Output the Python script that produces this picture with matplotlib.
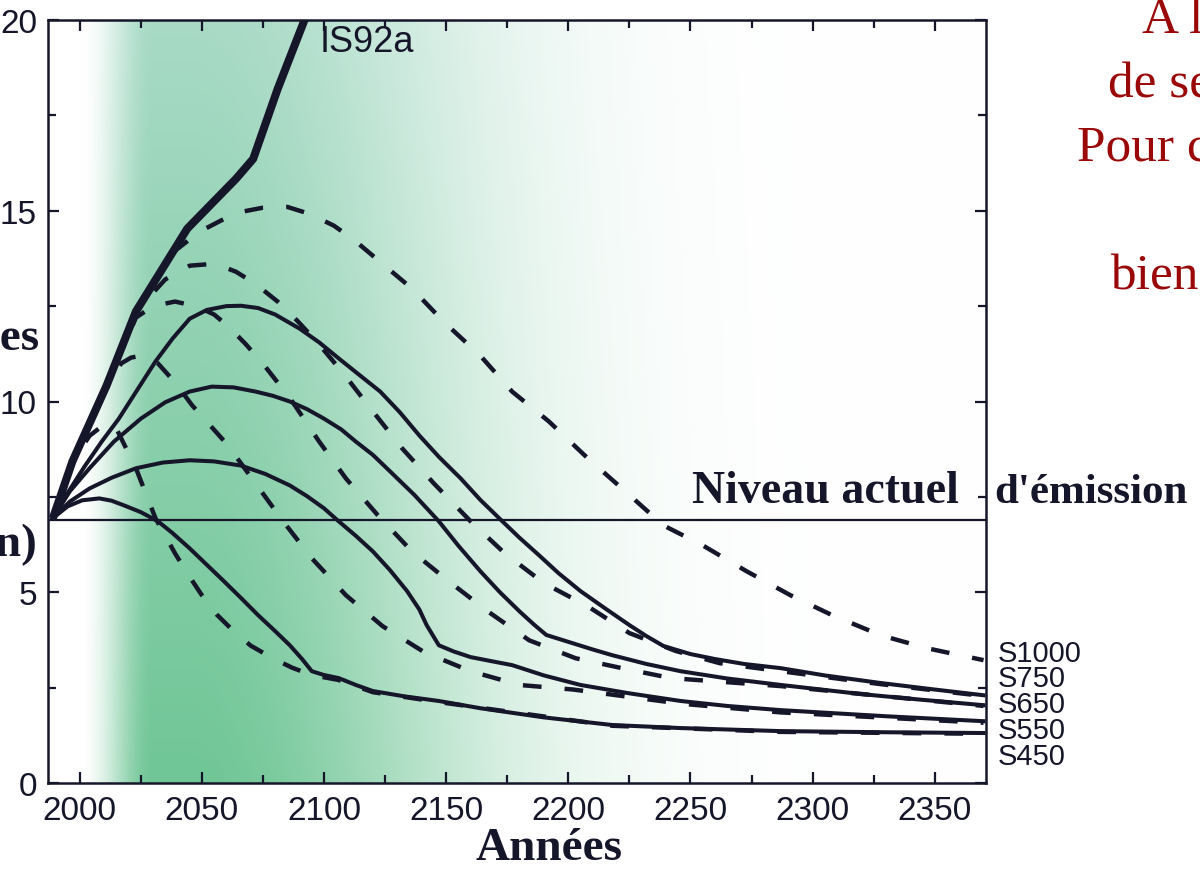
import numpy as np
import matplotlib
matplotlib.use("Agg")
import matplotlib.pyplot as plt
from matplotlib.ticker import MultipleLocator

# ---------------- data ----------------
is92a_years = [1989, 1997, 2011, 2023, 2044, 2064, 2071, 2081, 2092, 2095]
is92a_vals = [6.94, 8.43, 10.42, 12.36, 14.53, 15.84, 16.36, 18.19, 20.0, 20.6]

# solid profiles
s750_years = [1989, 1995, 2002, 2009, 2016, 2024, 2031, 2038, 2045, 2052, 2060, 2066, 2073,
              2080, 2090, 2098, 2106, 2114, 2123, 2131, 2139, 2147, 2156, 2164, 2173, 2180,
              2188, 2196, 2205, 2215, 2225, 2232, 2239, 2250, 2260, 2272, 2287, 2305, 2328,
              2350, 2370]
s750_vals = [6.94, 7.6, 8.3, 8.95, 9.55, 10.35, 11.05, 11.65, 12.17, 12.4, 12.5, 12.51, 12.45,
             12.28, 11.91, 11.55, 11.13, 10.72, 10.26, 9.72, 9.11, 8.55, 7.98, 7.42, 6.86, 6.43,
             5.97, 5.5, 5.03, 4.58, 4.14, 3.85, 3.59, 3.38, 3.25, 3.12, 3.01, 2.82, 2.62,
             2.45, 2.30]

s650_years = [1989, 1996, 2004, 2014, 2025, 2035, 2045, 2054, 2063, 2072, 2079, 2086, 2093,
              2100, 2107, 2113, 2120, 2127, 2137, 2147, 2155, 2164, 2172, 2180, 2186, 2191,
              2200, 2210, 2218, 2232, 2246, 2265, 2287, 2320, 2345, 2370]
s650_vals = [6.94, 7.65, 8.25, 8.95, 9.55, 9.98, 10.26, 10.39, 10.37, 10.26, 10.15, 10.0, 9.8,
             9.55, 9.27, 8.95, 8.6, 8.17, 7.55, 6.86, 6.22, 5.55, 5.0, 4.50, 4.15, 3.88,
             3.70, 3.50, 3.35, 3.12, 2.93, 2.74, 2.57, 2.33, 2.18, 2.04]

s550_years = [1989, 1996, 2004, 2013, 2023, 2034, 2045, 2055, 2066, 2076, 2086, 2093, 2100,
              2106, 2113, 2120, 2127, 2134, 2139, 2142, 2147, 2153, 2160, 2168, 2177, 2190,
              2205, 2225, 2246, 2265, 2287, 2330, 2370]
s550_vals = [6.94, 7.38, 7.72, 8.0, 8.25, 8.4, 8.46, 8.43, 8.32, 8.1, 7.80, 7.52, 7.20,
             6.86, 6.48, 6.07, 5.58, 5.03, 4.55, 4.14, 3.61, 3.45, 3.30, 3.2, 3.09, 2.82,
             2.57, 2.35, 2.15, 2.02, 1.91, 1.75, 1.62]

s450_years = [1989, 1995, 2001, 2008, 2013, 2018, 2025, 2032, 2038, 2045, 2052, 2059, 2066,
              2073, 2080, 2086, 2091, 2095, 2100, 2106, 2113, 2120, 2133, 2147, 2164, 2190,
              2218, 2246, 2287, 2330, 2370]
s450_vals = [6.94, 7.25, 7.41, 7.46, 7.4, 7.28, 7.1, 6.86, 6.55, 6.15, 5.72, 5.29, 4.85,
             4.40, 3.98, 3.61, 3.25, 2.93, 2.83, 2.75, 2.57, 2.41, 2.27, 2.15, 1.96, 1.72,
             1.52, 1.44, 1.36, 1.33, 1.31]

# dashed profiles
d1000_years = [1989, 1997, 2011, 2023, 2039, 2049, 2058, 2066, 2075, 2085, 2094, 2104, 2112,
               2120, 2136, 2149, 2164, 2177, 2192, 2208, 2222, 2239, 2255, 2273, 2291, 2308,
               2328, 2347, 2370]
d1000_vals = [6.94, 8.43, 10.42, 12.36, 13.95, 14.45, 14.75, 14.97, 15.08, 15.10, 14.92, 14.61,
              14.25, 13.82, 12.96, 12.09, 11.20, 10.26, 9.48, 8.51, 7.72, 6.75, 6.23, 5.55,
              4.92, 4.40, 3.87, 3.53, 3.22]

d750_years = [1989, 1997, 2011, 2023, 2035, 2045, 2053, 2058, 2064, 2072, 2081, 2089, 2097,
              2108, 2120, 2132, 2145, 2160, 2174, 2190, 2208, 2225, 2244, 2262, 2287, 2328, 2370]
d750_vals = [6.94, 8.43, 10.42, 12.36, 13.2, 13.56, 13.6, 13.55, 13.40, 13.08, 12.62, 12.12,
             11.57, 10.73, 9.74, 8.77, 7.85, 6.86, 6.02, 5.24, 4.63, 3.93, 3.46, 3.14, 2.93,
             2.59, 2.28]

d650_years = [1989, 1997, 2011, 2023, 2030, 2039, 2048, 2055, 2061, 2068, 2075, 2081, 2087,
              2098, 2109, 2122, 2136, 2151, 2167, 2184, 2203, 2222, 2242, 2287, 2370]
d650_vals = [6.94, 8.43, 10.42, 12.2, 12.5, 12.62, 12.49, 12.28, 11.96, 11.5, 10.99, 10.5,
             10.0, 8.95, 7.98, 7.02, 6.07, 5.29, 4.50, 3.74, 3.27, 3.01, 2.75, 2.54, 2.02]

d550_years = [1989, 1997, 2011, 2017, 2021, 2025, 2032, 2039, 2046, 2053, 2060, 2066, 2072,
              2083, 2095, 2109, 2124, 2141, 2160, 2180, 2202, 2246, 2287, 2370]
d550_vals = [6.94, 8.43, 10.42, 11.0, 11.15, 11.2, 11.0, 10.5, 9.9, 9.4, 8.9, 8.38, 7.85,
             6.88, 5.89, 4.92, 4.11, 3.43, 2.93, 2.57, 2.45, 2.08, 1.85, 1.58]

d450_years = [1989, 1997, 2004, 2010, 2015, 2023, 2031, 2039, 2044, 2050, 2056, 2063, 2070,
              2079, 2087, 2095, 2106, 2120, 2147, 2218, 2287, 2370]
d450_vals = [6.94, 8.43, 9.1, 9.4, 9.29, 8.25, 6.94, 6.02, 5.5, 4.92, 4.42, 3.98, 3.6,
             3.27, 3.02, 2.83, 2.70, 2.38, 2.12, 1.50, 1.34, 1.29]

current_level = 6.9
scenario_labels = ["S1000", "S750", "S650", "S550", "S450"]
x_ticks = [2000, 2050, 2100, 2150, 2200, 2250, 2300, 2350]
y_ticks = [0, 5, 10, 15, 20]
red_lines = ["A la fin du siècle", "de se stabiliser", "Pour cela", "bien"]

# ---------------- figure ----------------
W, H = 1200, 870
fig = plt.figure(figsize=(W / 100, H / 100), dpi=100)
fig.patch.set_facecolor("white")

def fx(px):
    return px / W

def fy(py):
    return 1 - py / H

ax = fig.add_axes([fx(48), fy(784), 938 / W, 763 / H])
ax.set_xlim(1987, 2371)
ax.set_ylim(0, 20)

# green gradient background
xs = np.linspace(1987, 2371, 500)
ys = np.linspace(0, 20, 200)
def smooth(t):
    t = np.clip(t, 0, 1)
    return t * t * (3 - 2 * t)
right_fade = np.where(xs < 2045, 1.0, np.exp(-((xs - 2045) / 115.0) ** 2))
alpha_x = smooth((xs - 2000) / (2030 - 2000)) * right_fade
bottom_c = np.array([112, 198, 150]) / 255.0
top_c = np.array([168, 218, 198]) / 255.0
fy_ = (ys / 20.0)[:, None, None]
green = bottom_c[None, None, :] * (1 - fy_) + top_c[None, None, :] * fy_
a = alpha_x[None, :, None]
img = green * a + 1.0 * (1 - a)
ax.imshow(img, extent=[1987, 2371, 0, 20], origin="lower", aspect="auto", zorder=0,
          interpolation="bilinear")

ink = "#16162a"
ax.plot(is92a_years, is92a_vals, color=ink, lw=5.8, solid_capstyle="butt", zorder=4)
for yy, vv in [(s750_years, s750_vals), (s650_years, s650_vals),
               (s550_years, s550_vals), (s450_years, s450_vals)]:
    ax.plot(yy, vv, color=ink, lw=2.9, zorder=3, solid_joinstyle="round")
for yy, vv in [(d1000_years, d1000_vals), (d750_years, d750_vals), (d650_years, d650_vals),
               (d550_years, d550_vals), (d450_years, d450_vals)]:
    ax.plot(yy, vv, color=ink, lw=3.2, dashes=(4.2, 5.2), zorder=3)

ax.axhline(current_level, color=ink, lw=1.6, zorder=3)

# axes styling
for s in ax.spines.values():
    s.set_linewidth(1.8)
    s.set_color(ink)
ax.set_xticks(x_ticks)
ax.set_yticks(y_ticks)
ax.xaxis.set_minor_locator(MultipleLocator(25))
ax.yaxis.set_minor_locator(MultipleLocator(2.5))
ax.tick_params(which="both", direction="in", top=True, right=True, color=ink, width=1.6)
ax.tick_params(which="major", length=8)
ax.tick_params(which="minor", length=6)
ax.tick_params(axis="x", which="major", pad=9)
ax.tick_params(axis="y", which="major", pad=8)
for lab in ax.get_xticklabels() + ax.get_yticklabels():
    lab.set_fontfamily("Liberation Sans")
    lab.set_fontsize(24)
    lab.set_color(ink)

# texts
serif = "Liberation Serif"
fig.text(fx(549), fy(849), "Années", ha="center", va="center", fontsize=34,
         fontweight="bold", family=serif, color=ink)
fig.text(fx(692), fy(503), "Niveau actuel", ha="left", va="baseline", fontsize=33,
         fontweight="bold", family=serif, color=ink)
fig.text(fx(994), fy(503), "d'émission", ha="left", va="baseline", fontsize=31,
         fontweight="bold", family=serif, color=ink)
fig.text(fx(39), fy(350), "Émissions mondiales", ha="right", va="baseline", fontsize=34,
         fontweight="bold", family=serif, color=ink)
fig.text(fx(38), fy(556), "(GtC/an)", ha="right", va="baseline", fontsize=34,
         fontweight="bold", family=serif, color=ink)
fig.text(fx(320), fy(52), "IS92a", ha="left", va="baseline", fontsize=26,
         family="Liberation Sans", color=ink)

label_y = [654, 679, 705, 731, 757]
for lab, py in zip(scenario_labels, label_y):
    fig.text(fx(998), fy(py), lab, ha="left", va="center", fontsize=21,
             family="Liberation Sans", color=ink)

red = "#9a0808"
red_pos = [(1142, 33), (1108, 98), (1077, 162), (1110, 290)]
for txt, (px, py) in zip(red_lines, red_pos):
    fig.text(fx(px), fy(py), txt, ha="left", va="baseline", fontsize=37,
             family=serif, color=red)

fig.savefig("out.png", dpi=100)
